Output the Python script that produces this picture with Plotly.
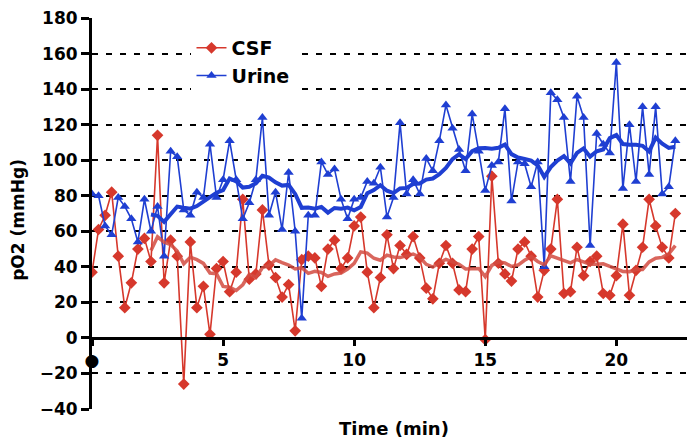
import plotly.graph_objects as go
import pandas as pd

time_min = [0.0, 0.25, 0.5, 0.75, 1.0, 1.25, 1.5, 1.75, 2.0, 2.25,
            2.5, 2.75, 3.0, 3.25, 3.5, 3.75, 4.0, 4.25, 4.5, 4.75,
            5.0, 5.25, 5.5, 5.75, 6.0, 6.25, 6.5, 6.75, 7.0, 7.25,
            7.5, 7.75, 8.0, 8.25, 8.5, 8.75, 9.0, 9.25, 9.5, 9.75,
            10.0, 10.25, 10.5, 10.75, 11.0, 11.25, 11.5, 11.75, 12.0, 12.25,
            12.5, 12.75, 13.0, 13.25, 13.5, 13.75, 14.0, 14.25, 14.5, 14.75,
            15.0, 15.25, 15.5, 15.75, 16.0, 16.25, 16.5, 16.75, 17.0, 17.25,
            17.5, 17.75, 18.0, 18.25, 18.5, 18.75, 19.0, 19.25, 19.5, 19.75,
            20.0, 20.25, 20.5, 20.75, 21.0, 21.25, 21.5, 21.75, 22.0, 22.25]

csf_po2 = [37, 61, 69, 82, 46, 17, 31, 50, 56, 43,
           114, 31, 55, 46, -26, 54, 17, 29, 2, 39,
           43, 26, 37, 78, 33, 36, 72, 41, 34, 23,
           30, 4, 44, 46, 45, 29, 50, 55, 39, 45,
           63, 68, 37, 17, 34, 58, 39, 52, 47, 57,
           45, 28, 22, 42, 52, 42, 27, 26, 50, 57,
           -1, 91, 42, 36, 32, 50, 54, 46, 23, 38,
           50, 78, 25, 26, 51, 35, 43, 46, 25, 24,
           35, 64, 24, 38, 51, 78, 63, 51, 45, 70]

urine_po2 = [81, 80, 63, 58, 79, 74, 67, 54, 78, 60,
             74, 46, 105, 102, 72, 69, 82, 79, 109, 79,
             89, 111, 89, 67, 76, 89, 124, 69, 82, 61,
             93, 60, 11, 69, 69, 99, 92, 95, 78, 67,
             78, 79, 88, 87, 96, 68, 79, 121, 81, 89,
             81, 101, 94, 111, 131, 118, 106, 94, 126, 105,
             83, 97, 99, 129, 77, 99, 98, 85, 99, 40,
             138, 134, 124, 88, 136, 124, 52, 115, 109, 104,
             155, 84, 120, 88, 130, 92, 130, 81, 85, 111]

y_ticks = [-40, -20, 0, 20, 40, 60, 80, 100, 120, 140, 160, 180]
x_ticks = [0, 5, 10, 15, 20]
x_tick_text = ["\u25cf", "5", "10", "15", "20"]

MA_PERIOD = 10
csf_ma = pd.Series(csf_po2).rolling(MA_PERIOD).mean()
urine_ma = pd.Series(urine_po2).rolling(MA_PERIOD).mean()

RED = "#d6382c"
BLUE = "#1f3fd2"
FONT = "DejaVu Sans"

fig = go.Figure()
fig.add_trace(go.Scatter(
    x=time_min, y=csf_po2, name="CSF", mode="lines+markers",
    line=dict(color=RED, width=1.6),
    marker=dict(symbol="diamond", size=9, color=RED),
))
fig.add_trace(go.Scatter(
    x=time_min, y=urine_po2, name="Urine", mode="lines+markers",
    line=dict(color=BLUE, width=1.6),
    marker=dict(symbol="triangle-up", size=9, color=BLUE),
))
fig.add_trace(go.Scatter(
    x=time_min, y=csf_ma, mode="lines", showlegend=False, hoverinfo="skip",
    line=dict(color="rgba(210,75,65,0.85)", width=3.5),
))
fig.add_trace(go.Scatter(
    x=time_min, y=urine_ma, mode="lines", showlegend=False, hoverinfo="skip",
    line=dict(color=BLUE, width=4),
))

y_min, y_max = -40, 180
zero_pos = (0 - y_min) / (y_max - y_min)

fig.update_layout(
    width=687, height=430,
    margin=dict(l=84, r=0, t=10, b=29),
    paper_bgcolor="white", plot_bgcolor="white",
    font=dict(family=FONT, color="black"),
    showlegend=True,
    legend=dict(
        x=0.165, y=0.972, xanchor="left", yanchor="top",
        bgcolor="white", borderwidth=0,
        font=dict(family=FONT, size=19, color="black", weight="bold"),
        tracegroupgap=0, itemwidth=30,
    ),
    xaxis=dict(
        range=[0, 23], anchor="free", position=zero_pos,
        tickvals=x_ticks, ticktext=x_tick_text,
        ticks="outside", ticklen=6, tickwidth=3, tickcolor="black",
        showline=True, linecolor="black", linewidth=3,
        showgrid=False, zeroline=False,
        tickfont=dict(family=FONT, size=17, color="black", weight="bold"),
    ),
    yaxis=dict(
        range=[y_min, y_max], tickvals=y_ticks,
        ticks="outside", ticklen=8, tickwidth=3, tickcolor="black",
        showline=True, linecolor="black", linewidth=3,
        showgrid=True, gridcolor="black", gridwidth=2, griddash="6px,8px",
        zeroline=False, ticklabeloverflow="allow",
        tickfont=dict(family=FONT, size=17, color="black", weight="bold"),
    ),
    annotations=[
        dict(text="Time (min)", xref="paper", yref="paper", x=0.5, y=-0.05,
             xanchor="center", yanchor="middle", showarrow=False,
             font=dict(family=FONT, size=18, color="black", weight="bold")),
        dict(text="pO2 (mmHg)", xref="paper", yref="paper", x=-0.122, y=0.485,
             xanchor="center", yanchor="middle", showarrow=False, textangle=-90,
             font=dict(family=FONT, size=17, color="black", weight="bold")),
    ],
)

fig.write_html("out.html")
